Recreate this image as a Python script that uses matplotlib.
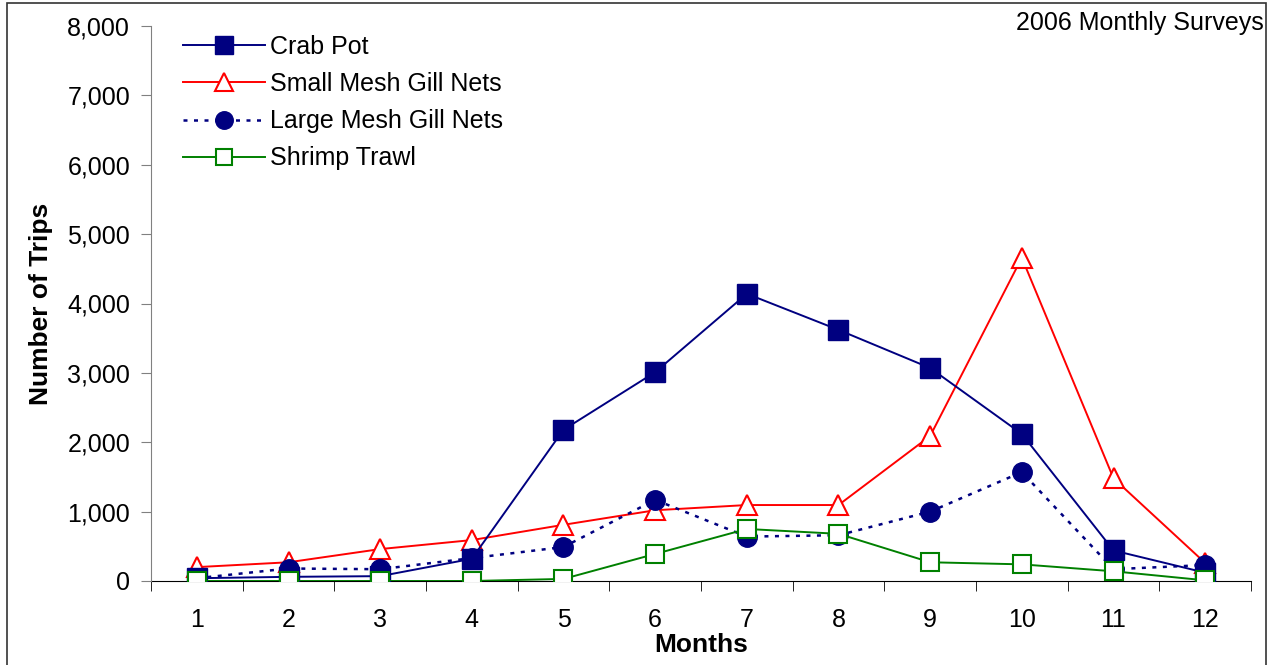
import matplotlib
matplotlib.use("Agg")
import matplotlib.pyplot as plt
from matplotlib.ticker import FuncFormatter, MultipleLocator, FixedLocator
from matplotlib.patches import Rectangle

plt.rcParams['font.family'] = ['Liberation Sans', 'DejaVu Sans']

months = [1, 2, 3, 4, 5, 6, 7, 8, 9, 10, 11, 12]
crab_pot = [40, 60, 70, 320, 2180, 3010, 4140, 3620, 3070, 2120, 440, 120]
small_mesh = [200, 270, 460, 590, 810, 1020, 1095, 1095, 2090, 4660, 1480, 260]
large_mesh = [40, 180, 170, 330, 490, 1170, 640, 660, 1000, 1570, 170, 230]
shrimp_trawl = [0, 0, 0, 0, 30, 390, 750, 680, 270, 240, 140, 10]

fig = plt.figure(figsize=(12.81, 6.65), dpi=100)
ax = fig.add_axes([151/1281, 1-581/665, 1100/1281, 555/665])

ax.plot(months, small_mesh, color='#FF0000', lw=1.4, marker='^', ms=14,
        mfc='white', mec='#FF0000', mew=1.5, label='Small Mesh Gill Nets', zorder=2)
ax.plot(months, crab_pot, color='#000080', lw=1.4, marker='s', ms=14,
        mfc='#000080', mec='#000080', label='Crab Pot', zorder=3)
ax.plot(months, large_mesh, color='#000080', lw=1.8, linestyle=(0, (1.6, 2.6)),
        dash_capstyle='butt', marker='o', ms=14, mfc='#000080', mec='#000080',
        label='Large Mesh Gill Nets', zorder=4)
ax.plot(months, shrimp_trawl, color='#008000', lw=1.4, marker='s', ms=13,
        mfc='white', mec='#008000', mew=1.5, label='Shrimp Trawl', zorder=5)

ax.set_xlim(0.5, 12.5)
ax.set_ylim(0, 8000)
ax.yaxis.set_major_locator(MultipleLocator(1000))
ax.yaxis.set_major_formatter(FuncFormatter(lambda v, p: f"{int(v):,}"))
ax.set_xticks(months)
ax.xaxis.set_minor_locator(FixedLocator([m + 0.5 for m in [0] + months]))
ax.tick_params(axis='x', which='major', length=0, pad=19.5, labelsize=18)
ax.tick_params(axis='x', which='minor', length=7, direction='out', color='black')
ax.tick_params(axis='y', which='major', length=7, direction='out', color='#808080',
               labelsize=18, pad=8)

for s in ['top', 'right']:
    ax.spines[s].set_visible(False)
ax.spines['left'].set_color('#808080')
ax.spines['bottom'].set_color('black')
ax.spines['bottom'].set_zorder(1)

ax.set_xlabel('Months', fontsize=19, fontweight='bold', labelpad=1)
ax.set_ylabel('Number of Trips', fontsize=19, fontweight='bold', labelpad=10)

handles, labels = ax.get_legend_handles_labels()
order = [1, 0, 2, 3]
leg = ax.legend([handles[i] for i in order], [labels[i] for i in order],
                loc='upper left', bbox_to_anchor=(0.021, 1.0), frameon=False,
                fontsize=18, handlelength=3.3, handletextpad=0.2, labelspacing=0.53,
                borderaxespad=0.0, borderpad=0.35, markerscale=0.9)

fig.text(1264/1281, 1-11/665, '2006 Monthly Surveys', ha='right', va='top', fontsize=18)

fig.patches.append(Rectangle((7/1281, -0.05), 1259/1281, 1.05 - 3/665,
                             transform=fig.transFigure, fill=False,
                             edgecolor='#333333', lw=1.2))

fig.savefig('out.png', dpi=100)
